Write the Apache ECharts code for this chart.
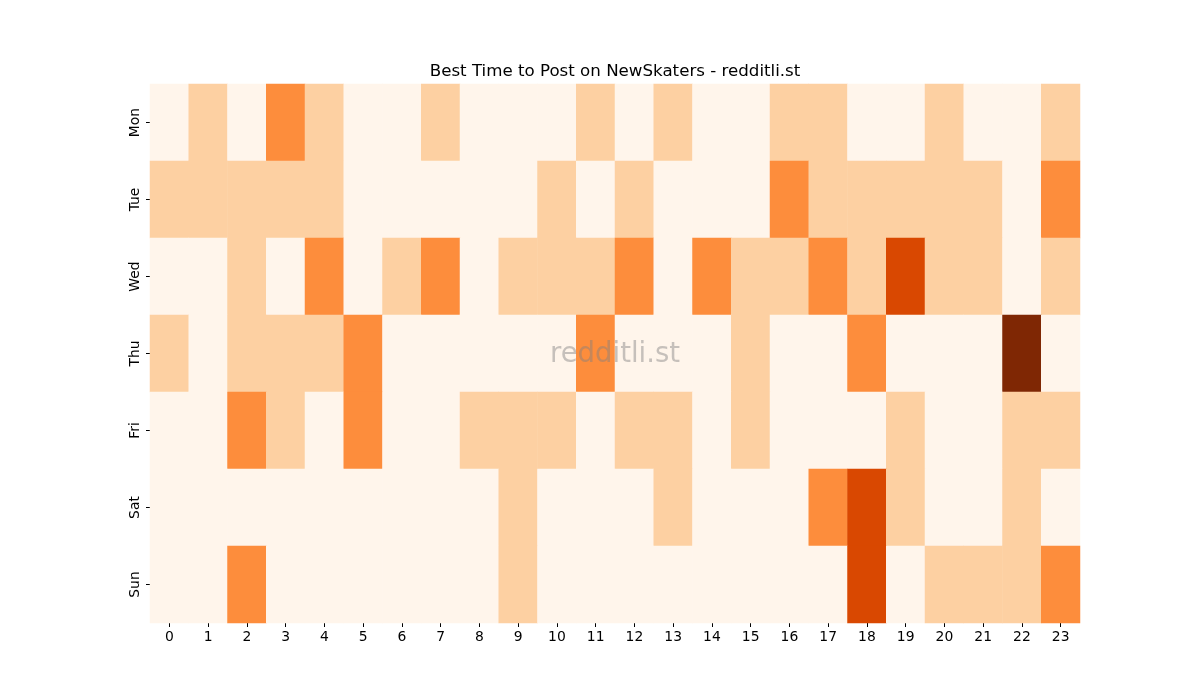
<!DOCTYPE html>
<html>
<head>
<meta charset="utf-8">
<title>Best Time to Post on NewSkaters</title>
<style>
html, body { margin: 0; padding: 0; background: #fff; }
#chart { width: 1200px; height: 700px; }
</style>
</head>
<body>
<div id="chart"></div>
<script src="https://cdn.jsdelivr.net/npm/echarts@6/dist/echarts.min.js"></script>
<script>
// hours along x, weekdays down y
var hours = ['0','1','2','3','4','5','6','7','8','9','10','11','12','13','14','15','16','17','18','19','20','21','22','23'];
var days = ['Mon','Tue','Wed','Thu','Fri','Sat','Sun'];

// activity level per hour, one array per day
var mon = [0,1,0,2,1,0,0,1,0,0,0,1,0,1,0,0,1,1,0,0,1,0,0,1];
var tue = [1,1,1,1,1,0,0,0,0,0,1,0,1,0,0,0,2,1,1,1,1,1,0,2];
var wed = [0,0,1,0,2,0,1,2,0,1,1,1,2,0,2,1,1,2,1,3,1,1,0,1];
var thu = [1,0,1,1,1,2,0,0,0,0,0,2,0,0,0,1,0,0,2,0,0,0,4,0];
var fri = [0,0,2,1,0,2,0,0,1,1,1,0,1,1,0,1,0,0,0,1,0,0,1,1];
var sat = [0,0,0,0,0,0,0,0,0,1,0,0,0,1,0,0,0,2,3,1,0,0,1,0];
var sun = [0,0,2,0,0,0,0,0,0,1,0,0,0,0,0,0,0,0,3,0,1,1,1,2];

var levelColors = ['#fff5eb', '#fdd0a2', '#fd8d3c', '#d94801', '#7f2704'];

var rows = [mon, tue, wed, thu, fri, sat, sun];
var cells = [];
rows.forEach(function (row, d) {
  row.forEach(function (v, h) {
    cells.push([h, d, v]);
  });
});

var chart = echarts.init(document.getElementById('chart'));
chart.setOption({
  animation: false,
  backgroundColor: '#fff',
  textStyle: { fontFamily: 'DejaVu Sans' },
  grid: { left: 150, right: 120, top: 84, bottom: 77 },
  xAxis: {
    type: 'category',
    data: hours,
    axisLine: { show: false },
    axisTick: { show: true, alignWithLabel: true, length: 4, lineStyle: { color: '#000' } },
    axisLabel: { color: '#000', fontSize: 13.9, margin: 7 },
    splitLine: { show: false }
  },
  yAxis: {
    type: 'category',
    data: days,
    inverse: true,
    axisLine: { show: false },
    axisTick: { show: true, alignWithLabel: true, length: 4, lineStyle: { color: '#000' } },
    axisLabel: { color: '#000', fontSize: 13.9, rotate: 90, margin: 8 },
    splitLine: { show: false }
  },
  visualMap: {
    type: 'piecewise',
    show: false,
    dimension: 2,
    pieces: levelColors.map(function (c, i) { return { value: i, color: c }; })
  },
  graphic: [{
    type: 'text',
    x: 615,
    y: 72,
    style: {
      text: 'Best Time to Post on NewSkaters - redditli.st',
      fontSize: 16.67,
      fontFamily: 'DejaVu Sans',
      fill: '#000',
      textAlign: 'center',
      textVerticalAlign: 'middle'
    }
  }, {
    type: 'text',
    x: 615,
    y: 355,
    style: {
      text: 'redditli.st',
      fontSize: 27.5,
      fontFamily: 'DejaVu Sans',
      fill: 'rgba(128,128,128,0.45)',
      textAlign: 'center',
      textVerticalAlign: 'middle'
    },
    z: 100
  }],
  series: [{
    type: 'heatmap',
    data: cells,
    itemStyle: { borderWidth: 0 },
    emphasis: { disabled: true }
  }]
});
</script>
</body>
</html>
